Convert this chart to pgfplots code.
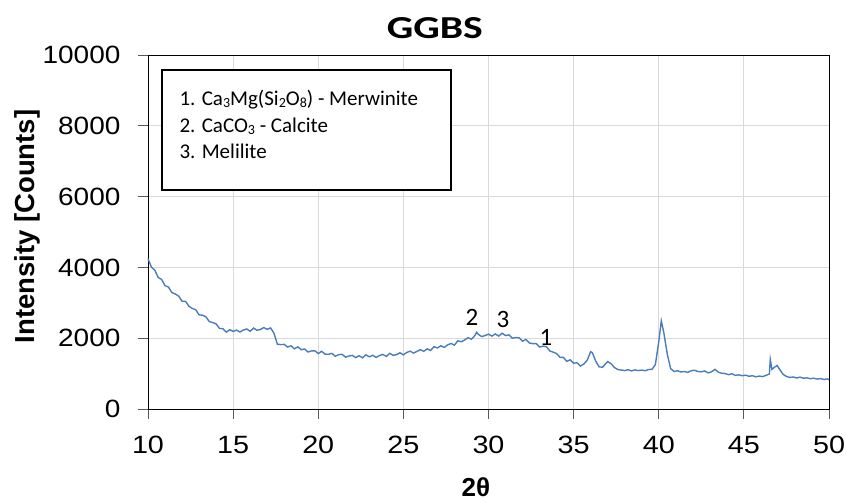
\documentclass[border=0pt]{standalone}
\usepackage{pgfplots}
\pgfplotsset{compat=1.18}
\usepackage{fontspec}
\setmainfont{Liberation Sans}
\newfontfamily\calibri{Carlito}
\definecolor{xrdblue}{RGB}{74,126,187}
\newcommand{\sub}[1]{\raisebox{-0.15ex}{\fontsize{14}{16}\selectfont #1}}
\begin{document}
\begin{tikzpicture}
\begin{axis}[
  name=ax,
  scale only axis,
  width=681pt, height=354pt,
  xmin=10, xmax=50, ymin=0, ymax=10000,
  xtick={10,15,...,50},
  ytick={0,2000,...,10000},
  scaled ticks=false,
  /pgf/number format/assume math mode=true,
  /pgf/number format/set thousands separator={},
  tick label style={font=\fontsize{25}{30}\selectfont},
  xticklabel={\scalebox{1.15}[1]{\pgfmathprintnumber{\tick}}},
  yticklabel={\scalebox{1.12}[1]{\pgfmathprintnumber{\tick}}},
  xticklabel style={yshift=-14pt},
  yticklabel style={xshift=-14pt},
  grid=major,
  major grid style={gray!30, line width=0.9pt},
  tick align=outside,
  major tick length=10pt,
  tick style={gray!70!black, line width=0.8pt},
  xtick pos=bottom, ytick pos=left,
  axis line style={black, line width=0.9pt},
  clip=false,
]
\addplot[color=xrdblue, line width=1.4pt] coordinates {
(10.0,4245) (10.2,4010) (10.4,3920) (10.6,3715) (10.8,3660) (11.0,3485)
(11.2,3445) (11.4,3290) (11.6,3250) (11.8,3190) (12.0,3045) (12.2,3045)
(12.4,2905) (12.6,2840) (12.8,2805) (13.0,2660) (13.2,2650) (13.4,2605)
(13.6,2470) (13.8,2440) (14.0,2405) (14.2,2275) (14.4,2270) (14.6,2170)
(14.8,2240) (15.0,2190) (15.2,2230) (15.4,2175) (15.6,2230) (15.8,2260)
(16.0,2195) (16.2,2285) (16.4,2225) (16.6,2245) (16.8,2300) (17.0,2250)
(17.2,2290) (17.4,2140) (17.6,1830) (17.8,1820) (18.0,1825) (18.2,1750)
(18.4,1785) (18.6,1700) (18.8,1755) (19.0,1675) (19.2,1695) (19.4,1610)
(19.6,1640) (19.8,1645) (20.0,1565) (20.2,1630) (20.4,1550) (20.6,1545)
(20.8,1570) (21.0,1490) (21.2,1535) (21.4,1545) (21.6,1465) (21.8,1495)
(22.0,1515) (22.2,1452) (22.4,1506) (22.6,1445) (22.8,1530) (23.0,1475)
(23.2,1517) (23.4,1456) (23.6,1512) (23.8,1540) (24.0,1485) (24.2,1573)
(24.4,1516) (24.6,1536) (24.8,1588) (25.0,1530) (25.2,1597) (25.4,1634)
(25.6,1578) (25.8,1629) (26.0,1675) (26.2,1630) (26.4,1700) (26.6,1655)
(26.8,1760) (27.0,1725) (27.2,1785) (27.4,1740) (27.6,1810) (27.8,1850)
(28.0,1805) (28.2,1925) (28.4,1900) (28.6,1950) (28.8,2015) (29.0,1970)
(29.2,2075) (29.3,2170) (29.4,2110) (29.6,2045) (29.8,2075) (30.0,2115)
(30.2,2060) (30.4,2120) (30.6,2060) (30.8,2140) (31.0,2075) (31.2,2095)
(31.4,2000) (31.6,2020) (31.8,2010) (32.0,1915) (32.2,1965) (32.4,1865)
(32.6,1845) (32.8,1850) (33.0,1750) (33.2,1775) (33.4,1760) (33.6,1640)
(33.8,1605) (34.0,1565) (34.2,1460) (34.4,1460) (34.6,1345) (34.8,1390)
(35.0,1295) (35.2,1305) (35.4,1215) (35.6,1270) (35.8,1380) (36.0,1620)
(36.1,1590) (36.3,1350) (36.5,1190) (36.7,1180) (36.9,1290) (37.0,1340)
(37.2,1280) (37.4,1170) (37.6,1115) (37.8,1100) (38.0,1085) (38.2,1110)
(38.4,1075) (38.6,1105) (38.8,1085) (39.0,1100) (39.2,1080) (39.4,1115)
(39.6,1120) (39.8,1250) (40.0,1900) (40.15,2490) (40.3,2150) (40.5,1550)
(40.7,1140) (40.9,1060) (41.1,1080) (41.3,1045) (41.5,1060) (41.7,1035)
(41.9,1080) (42.1,1095) (42.3,1060) (42.5,1050) (42.7,1075) (42.9,1020)
(43.1,1050) (43.3,1120) (43.5,1040) (43.7,1010) (43.9,1000) (44.1,970)
(44.3,995) (44.5,950) (44.7,965) (44.9,940) (45.1,955) (45.3,925)
(45.5,940) (45.7,910) (45.9,930) (46.1,915) (46.3,950) (46.5,990)
(46.55,1400) (46.65,1120) (46.8,1180) (46.95,1230) (47.1,1120) (47.3,980)
(47.5,920) (47.7,890) (47.9,905) (48.1,875) (48.3,900) (48.5,870)
(48.7,880) (48.9,855) (49.1,870) (49.3,845) (49.5,860) (49.7,835)
(49.9,850) (50.0,830)
};
% text box
\draw[black, line width=1.6pt, fill=white] (axis cs:10.82,9576) rectangle (axis cs:27.8,6186);
\node[anchor=base west, inner sep=0pt, font=\calibri\fontsize{21}{25}\selectfont] at (axis cs:11.84,8573) {1. Ca\sub{3}Mg(Si\sub{2}O\sub{8}) - Merwinite};
\node[anchor=base west, inner sep=0pt, font=\calibri\fontsize{21}{25}\selectfont] at (axis cs:11.84,7797) {2. CaCO\sub{3} - Calcite};
\node[anchor=base west, inner sep=0pt, font=\calibri\fontsize{21}{25}\selectfont] at (axis cs:11.84,7090) {3. Melilite};
% peak annotations
\node[font=\calibri\fontsize{25}{30}\selectfont, inner sep=0pt] at (axis cs:29.03,2600) {2};
\node[font=\calibri\fontsize{25}{30}\selectfont, inner sep=0pt] at (axis cs:30.85,2515) {3};
\node[font=\calibri\fontsize{25}{30}\selectfont, inner sep=0pt] at (axis cs:33.37,2034) {1};
% title and axis labels
\node[font=\calibri\bfseries\fontsize{32}{38}\selectfont, inner sep=0pt] at (axis cs:26.85,10763) {\scalebox{1.3}[1]{GGBS}};
\node[font=\bfseries\fontsize{26}{31}\selectfont, inner sep=0pt] at (axis cs:29.26,-2218) {2θ};
\node[font=\bfseries\fontsize{27.5}{33}\selectfont, inner sep=0pt, rotate=90] at (axis cs:2.92,5155) {Intensity [Counts]};
\end{axis}
\pgfresetboundingbox
\useasboundingbox ([shift={(-148pt,-93pt)}]ax.south west) rectangle ([shift={(17pt,55pt)}]ax.north east);
\end{tikzpicture}
\end{document}
